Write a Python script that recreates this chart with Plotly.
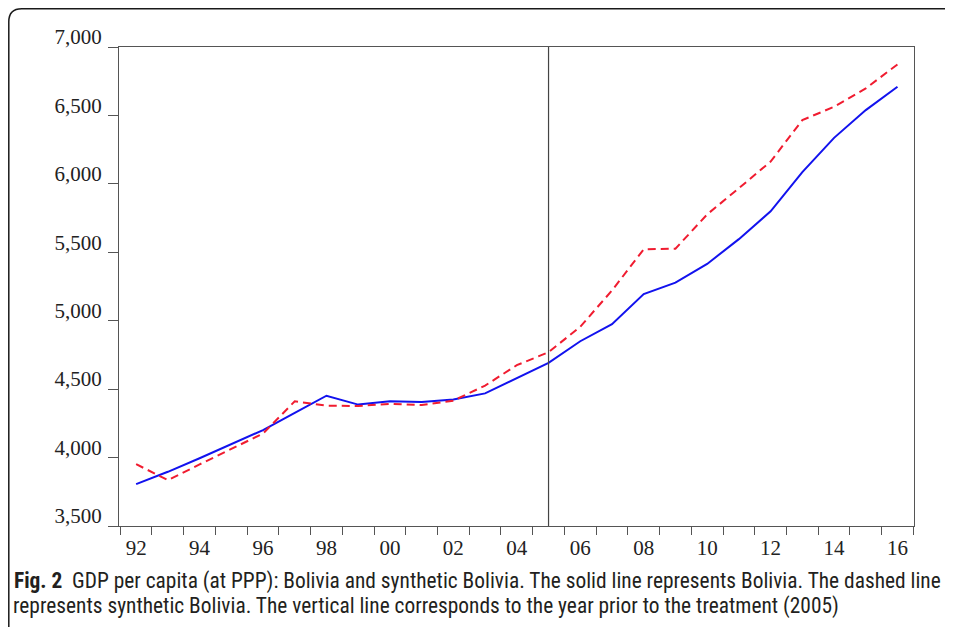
import plotly.graph_objects as go

# ---- data ----
years = list(range(1992, 2017))
bolivia = [3806, 3896, 3995, 4100, 4201, 4327, 4452, 4387, 4411, 4406, 4425, 4469,
           4582, 4692, 4850, 4975, 5195, 5278, 5415, 5596, 5799, 6086, 6336, 6539, 6710]
synthetic = [3952, 3835, 3950, 4062, 4176, 4411, 4379, 4377, 4392, 4384, 4416, 4526,
             4675, 4770, 4956, 5221, 5522, 5526, 5777, 5968, 6163, 6466, 6563, 6698, 6873]
x_label_years = list(range(1992, 2017, 2))
x_tick_labels = ["92", "94", "96", "98", "00", "02", "04", "06", "08", "10", "12", "14", "16"]
y_tick_vals = [3500, 4000, 4500, 5000, 5500, 6000, 6500, 7000]
y_tick_labels = ["3,500", "4,000", "4,500", "5,000", "5,500", "6,000", "6,500", "7,000"]
treatment_prior_year = 2005

caption1 = ("<b>Fig. 2</b>\u00a0 GDP per capita (at PPP): Bolivia and synthetic Bolivia. "
            "The solid line represents Bolivia. The dashed line")
caption2 = ("represents synthetic Bolivia. The vertical line corresponds to the year "
            "prior to the treatment (2005)")

# ---- layout geometry (page has an 8px body margin) ----
OFF = 8
W, H = 953 - OFF, 627 - OFF
L, R, T, B = 119 - OFF, 39, 47 - OFF, 101
PW, PH = W - L - R, H - T - B


def px(x):  # page pixel -> paper
    return (x - OFF - L) / PW


def py(y):
    return (H - B - (y - OFF)) / PH


fig = go.Figure()
fig.add_trace(go.Scatter(x=years, y=bolivia, mode="lines", name="Bolivia",
                         line=dict(color="#1212ee", width=2)))
fig.add_trace(go.Scatter(x=years, y=synthetic, mode="lines", name="Synthetic Bolivia",
                         line=dict(color="#f01c30", width=2, dash="8px,5px")))

axis_col = "#555555"
sfont = dict(family="Liberation Serif, Times New Roman, serif", size=21, color="#222222")

fig.update_xaxes(range=[1991.46, 2016.52], tickvals=x_label_years, ticktext=x_tick_labels,
                 ticks="outside", ticklen=3, tickcolor="rgba(0,0,0,0)",
                 minor=dict(ticks="outside", tick0=1991.5, dtick=1, ticklen=8,
                            tickcolor=axis_col, tickwidth=1.2, showgrid=False),
                 showline=True, linecolor=axis_col, linewidth=1.2, mirror=True,
                 showgrid=False, zeroline=False, tickfont=sfont)
fig.update_yaxes(range=[3500, 7000], tickvals=y_tick_vals, ticktext=y_tick_labels,
                 ticks="outside", ticklen=10, tickcolor=axis_col, tickwidth=1.2,
                 showline=True, linecolor=axis_col, linewidth=1.2, mirror=True,
                 showgrid=False, zeroline=False, tickfont=sfont,
                 ticklabelshift=-10, ticklabelstandoff=2)

# vertical line at year prior to treatment
fig.add_shape(type="line", xref="x", yref="paper", x0=treatment_prior_year,
              x1=treatment_prior_year, y0=0, y1=1, line=dict(color="#444444", width=1.2))

# rounded outer frame
r = 13
fl, ft = 8.8, 8.8
path = (f"M {px(fl)},{py(700)} L {px(fl)},{py(ft + r)} "
        f"Q {px(fl)},{py(ft)} {px(fl + r)},{py(ft)} L {px(1000)},{py(ft)}")
fig.add_shape(type="path", xref="paper", yref="paper", path=path,
              line=dict(color="#1a1a1a", width=1.5))

cfont = dict(family="Roboto Condensed, Liberation Sans Narrow, Roboto, sans-serif",
             size=21.4, color="#231f20")
fig.add_annotation(text=caption1, xref="paper", yref="paper", x=px(12), y=py(581),
                   xanchor="left", yanchor="middle", showarrow=False, font=cfont)
fig.add_annotation(text=caption2, xref="paper", yref="paper", x=px(11), y=py(606),
                   xanchor="left", yanchor="middle", showarrow=False, font=cfont)

fig.update_layout(width=W, height=H, margin=dict(l=L, r=R, t=T, b=B, pad=0),
                  paper_bgcolor="white", plot_bgcolor="white", showlegend=False)

fig.write_html("out.html")
